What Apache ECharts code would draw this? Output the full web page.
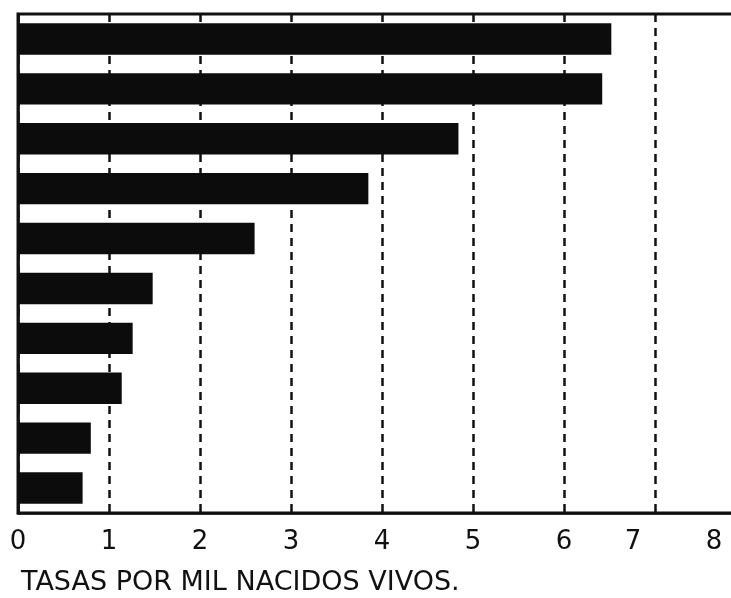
<!DOCTYPE html>
<html style="height: 100%">
<head>
    <meta charset="utf-8">
</head>
<body style="height: 100%; margin: 0; background: #fff">
<div id="container" style="width: 731px; height: 598px"></div>
<script type="text/javascript" src="https://cdn.jsdelivr.net/npm/echarts@6/dist/echarts.min.js"></script>
<script type="text/javascript">
    // filas del grafico, de arriba hacia abajo (sin rotulos en el original)
    var categorias = ['1', '2', '3', '4', '5', '6', '7', '8', '9', '10'];
    var tasas = [6.52, 6.42, 4.84, 3.85, 2.60, 1.48, 1.26, 1.14, 0.80, 0.71];
    var ticks = [0, 1, 2, 3, 4, 5, 6, 7, 8];
    var titulo = 'TASAS POR MIL NACIDOS VIVOS.';

    var fuente = 'DejaVu Sans';
    var dom = document.getElementById("container");
    var myChart = echarts.init(dom);
    var option = {
        backgroundColor: '#fff',
        animation: false,
        title: {
            text: titulo,
            left: 16,
            top: 564,
            textStyle: {
                fontFamily: fuente,
                fontWeight: 'normal',
                fontSize: 27,
                color: '#111'
            }
        },
        grid: {
            left: 18,
            top: 14,
            width: 728,
            height: 499,
            outerBoundsMode: 'none',
            containLabel: false,
            show: true,
            borderColor: '#111',
            borderWidth: 3,
            backgroundColor: 'transparent'
        },
        xAxis: {
            type: 'value',
            min: ticks[0],
            max: ticks[ticks.length - 1],
            interval: 1,
            axisLine: { show: true, lineStyle: { color: '#111', width: 2.5 } },
            axisTick: { show: false },
            splitLine: {
                show: true,
                lineStyle: { color: '#111', width: 2.5, type: [8, 6] }
            },
            axisLabel: {
                margin: 16,
                fontFamily: fuente,
                fontSize: 26,
                color: '#111',
                formatter: function (v) {
                    if (v === 8) return '{e|8}';
                    if (v === 7) return '{s|7}';
                    return String(v);
                },
                rich: {
                    e: { fontFamily: fuente, fontSize: 26, color: '#111', padding: [0, 64, 0, 0] },
                    s: { fontFamily: fuente, fontSize: 26, color: '#111', padding: [0, 44, 0, 0] }
                }
            }
        },
        yAxis: {
            type: 'category',
            inverse: true,
            data: categorias,
            axisLine: { show: true, lineStyle: { color: '#111', width: 2.5 } },
            axisTick: { show: false },
            axisLabel: { show: false },
            splitLine: { show: false }
        },
        series: [
            {
                type: 'bar',
                data: tasas,
                barWidth: '63%',
                itemStyle: { color: '#0c0c0c' },
                z: 3
            }
        ]
    };
    myChart.setOption(option, true);
</script>
</body>
</html>
